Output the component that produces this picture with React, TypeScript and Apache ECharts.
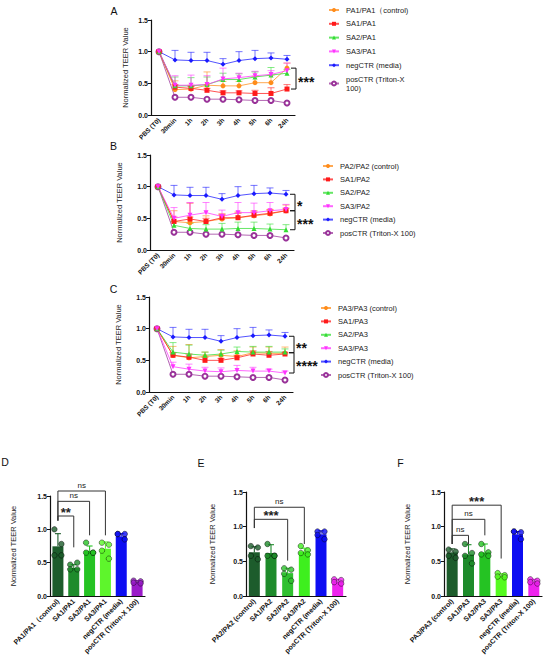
import React, { useEffect, useRef } from 'react';
import * as echarts from 'echarts';

const FONT = '"Liberation Sans", Arial, Helvetica, sans-serif';

const timePoints = ['PBS (T0)', '30min', '1h', '2h', '3h', '4h', '5h', '6h', '24h'];

// shared controls (line panels)
const negMean = [1.0, 0.87, 0.86, 0.86, 0.8, 0.86, 0.89, 0.9, 0.88];
const negSd = [0, 0.15, 0.13, 0.13, 0.09, 0.14, 0.13, 0.08, 0.06];
const posMean = [1.0, 0.28, 0.28, 0.25, 0.25, 0.24, 0.23, 0.23, 0.19];
const posSd = [0, 0.01, 0.01, 0.01, 0.01, 0.01, 0.01, 0.01, 0.01];

// Panel A
const namesA = ['PA1/PA1（control)', 'SA1/PA1', 'SA2/PA1', 'SA3/PA1', 'negCTR (media)', 'posCTR (Triton-X 100)'];
const pa1Mean = [1.0, 0.4, 0.41, 0.47, 0.46, 0.46, 0.51, 0.51, 0.74];
const pa1Sd = [0, 0.14, 0.06, 0.21, 0.07, 0.07, 0.1, 0.12, 0.08];
const sa1pa1Mean = [1.0, 0.44, 0.42, 0.39, 0.35, 0.35, 0.34, 0.34, 0.41];
const sa1pa1Sd = [0, 0.04, 0.03, 0.03, 0.03, 0.03, 0.05, 0.09, 0.07];
const sa2pa1Mean = [1.0, 0.46, 0.46, 0.48, 0.56, 0.56, 0.6, 0.63, 0.66];
const sa2pa1Sd = [0, 0.14, 0.13, 0.12, 0.1, 0.09, 0.08, 0.12, 0.06];
const sa3pa1Mean = [1.0, 0.47, 0.47, 0.48, 0.57, 0.59, 0.62, 0.64, 0.7];
const sa3pa1Sd = [0, 0.15, 0.16, 0.14, 0.17, 0.07, 0.07, 0.06, 0.12];
const sigA: [number, number][] = [[0.74, 0.41]];
const sigALabels = ['***'];

// Panel B
const namesB = ['PA2/PA2 (control)', 'SA1/PA2', 'SA2/PA2', 'SA3/PA2', 'negCTR (media)', 'posCTR (Triton-X 100)'];
const pa2Mean = [1.0, 0.45, 0.43, 0.45, 0.49, 0.51, 0.54, 0.57, 0.62];
const pa2Sd = [0, 0.17, 0.09, 0.09, 0.07, 0.09, 0.08, 0.07, 0.09];
const sa1pa2Mean = [1.0, 0.45, 0.49, 0.45, 0.51, 0.51, 0.55, 0.58, 0.62];
const sa1pa2Sd = [0, 0.07, 0.25, 0.05, 0.06, 0.07, 0.05, 0.05, 0.04];
const sa2pa2Mean = [1.0, 0.39, 0.34, 0.33, 0.33, 0.34, 0.34, 0.33, 0.32];
const sa2pa2Sd = [0, 0.06, 0.08, 0.07, 0.09, 0.1, 0.1, 0.08, 0.08];
const sa3pa2Mean = [1.0, 0.5, 0.55, 0.59, 0.53, 0.59, 0.59, 0.62, 0.64];
const sa3pa2Sd = [0, 0.17, 0.2, 0.16, 0.1, 0.16, 0.15, 0.13, 0.08];
const sigB: [number, number][] = [[0.88, 0.62], [0.62, 0.32]];
const sigBLabels = ['*', '***'];

// Panel C
const namesC = ['PA3/PA3 (control)', 'SA1/PA3', 'SA2/PA3', 'SA3/PA3', 'negCTR (media)', 'posCTR (Triton-X 100)'];
const pa3Mean = [1.0, 0.58, 0.54, 0.56, 0.58, 0.56, 0.62, 0.61, 0.61];
const pa3Sd = [0, 0.14, 0.21, 0.07, 0.09, 0.09, 0.09, 0.1, 0.1];
const sa1pa3Mean = [1.0, 0.58, 0.55, 0.5, 0.5, 0.54, 0.6, 0.58, 0.6];
const sa1pa3Sd = [0, 0.04, 0.05, 0.05, 0.03, 0.04, 0.05, 0.06, 0.02];
const sa2pa3Mean = [1.0, 0.63, 0.6, 0.58, 0.6, 0.64, 0.63, 0.63, 0.63];
const sa2pa3Sd = [0, 0.15, 0.14, 0.05, 0.06, 0.07, 0.09, 0.09, 0.05];
const sa3pa3Mean = [1.0, 0.4, 0.36, 0.33, 0.32, 0.34, 0.33, 0.33, 0.3];
const sa3pa3Sd = [0, 0.07, 0.08, 0.06, 0.06, 0.08, 0.06, 0.03, 0.03];
const sigC: [number, number][] = [[0.88, 0.62], [0.62, 0.3]];
const sigCLabels = ['**', '****'];

// Panel D
const labelsD = ['PA1/PA1（control)', 'SA1/PA1', 'SA2/PA1', 'SA3/PA1', 'negCTR (media)', 'posCTR (Triton-X 100)'];
const barsD = [0.745, 0.42, 0.68, 0.71, 0.895, 0.21];
const sdD = [0.19, 0.05, 0.07, 0.1, 0.04, 0.02];
const dotsD = [[1.0, 0.78, 0.61, 0.61], [0.47, 0.5, 0.4, 0.4], [0.8, 0.65, 0.65, 0.65], [0.8, 0.77, 0.68, 0.56], [0.93, 0.93, 0.93, 0.85], [0.23, 0.22, 0.2, 0.19]];
const sigD: [number, number, number, number, number][] = [[0, 1, 1.2, 1.13, 0.73], [0, 2, 1.42, 1.13, 0.91], [0, 3, 1.575, 1.13, 0.91]];
const sigDLabels = ['**', 'ns', 'ns'];

// Panel E
const labelsE = ['PA2/PA2 (control)', 'SA1/PA2', 'SA2/PA2', 'SA3/PA2', 'negCTR (media)', 'posCTR (Triton-X 100)'];
const barsE = [0.63, 0.62, 0.33, 0.64, 0.89, 0.21];
const sdE = [0.08, 0.12, 0.07, 0.05, 0.05, 0.03];
const dotsE = [[0.72, 0.7, 0.58, 0.53], [0.75, 0.58, 0.58, 0.58], [0.4, 0.38, 0.32, 0.22], [0.72, 0.66, 0.62, 0.6], [0.93, 0.93, 0.88, 0.82], [0.24, 0.23, 0.2, 0.18]];
const sigE: [number, number, number, number, number][] = [[0, 2, 1.106, 0.98, 0.51], [0, 3, 1.28, 0.98, 0.75]];
const sigELabels = ['***', 'ns'];

// Panel F
const labelsF = ['PA3/PA3 (control)', 'SA1/PA3', 'SA2/PA3', 'SA3/PA3', 'negCTR (media)', 'posCTR (Triton-X 100)'];
const barsF = [0.63, 0.6, 0.63, 0.29, 0.89, 0.21];
const sdF = [0.05, 0.14, 0.12, 0.03, 0.04, 0.03];
const dotsF = [[0.67, 0.64, 0.58, 0.55], [0.75, 0.62, 0.58, 0.47], [0.75, 0.63, 0.6, 0.58], [0.33, 0.3, 0.28, 0.27], [0.93, 0.92, 0.93, 0.82], [0.24, 0.22, 0.2, 0.18]];
const sigF: [number, number, number, number, number][] = [[0, 1, 0.875, 0.75, 0.75], [0, 2, 1.106, 0.75, 0.875], [0, 3, 1.31, 0.75, 0.54]];
const sigFLabels = ['ns', 'ns', '***'];

// styles
const lineStyles = [
  { color: '#ff8c1a', symbol: 'circle', size: 5, rotate: 0 },
  { color: '#ff1a1a', symbol: 'rect', size: 5, rotate: 0 },
  { color: '#33dd33', symbol: 'triangle', size: 5, rotate: 0 },
  { color: '#ff33ff', symbol: 'triangle', size: 5, rotate: 180 },
  { color: '#1a1aff', symbol: 'diamond', size: 5, rotate: 0 },
  { color: '#993399', symbol: 'emptyCircle', size: 5, rotate: 0 },
];
const colorsD = ['#1d5c2c', '#1e8b2b', '#25c323', '#5ef52c', '#0d0df2', '#9a1bc9'];
const colorsE = ['#1d5c2c', '#1e8b2b', '#2fc02f', '#3eef1e', '#0d0df2', '#ee22ee'];
const colorsF = ['#1d5c2c', '#1e8b2b', '#25c323', '#55fb1f', '#0d0df2', '#ee22ee'];
const dotJitter = [-3.5, 3.5, -3.5, 3.5];

const lineGrids = [
  { left: 151, top: 20, width: 144, height: 95 },
  { left: 150, top: 155, width: 144, height: 95 },
  { left: 149, top: 297, width: 144, height: 95 },
];
const barGrids = [
  { left: 50, top: 496, width: 95, height: 100 },
  { left: 246, top: 492, width: 100, height: 104 },
  { left: 444, top: 492, width: 98, height: 104 },
];
const lineNameGaps = [22, 27, 27];
const barNameGaps = [33, 30, 33];

function yAxisCfg(gi: number, nameGap: number) {
  return {
    type: 'value', gridIndex: gi, min: 0, max: 1.5, interval: 0.5,
    name: 'Normalized TEER Value', nameLocation: 'middle', nameGap,
    nameTextStyle: { fontSize: 7.5, color: '#222', fontFamily: FONT },
    axisLine: { show: true, lineStyle: { color: '#111', width: 1.2 } },
    axisTick: { show: true, length: 3, lineStyle: { color: '#111', width: 1 } },
    splitLine: { show: false },
    axisLabel: { formatter: (v: number) => v.toFixed(1), fontSize: 7, fontWeight: 'bold', color: '#111', margin: 3, fontFamily: FONT },
  };
}

function xAxisCfg(gi: number, data: string[], fontSize: number) {
  return {
    type: 'category', gridIndex: gi, data, boundaryGap: true,
    axisLine: { lineStyle: { color: '#111', width: 1.2 } },
    axisTick: { alignWithLabel: true, length: 3, lineStyle: { color: '#111', width: 1 } },
    axisLabel: { rotate: 45, interval: 0, fontSize, fontWeight: 'bold', color: '#111', margin: 4, fontFamily: FONT },
  };
}

function linePanelSeries(gi: number, names: string[], means: number[][], sds: number[][], sig: [number, number][], sigLabels: string[]) {
  const out: any[] = [];
  const order = [5, 4, 0, 1, 2, 3];
  order.forEach((k) => {
    const st = lineStyles[k];
    const mean = means[k];
    const sd = sds[k];
    out.push({
      type: 'custom', xAxisIndex: gi, yAxisIndex: gi, z: 1, silent: true,
      data: mean.map((m, j) => [j, m, m + sd[j]]).filter((d) => d[2] - d[1] > 0.015),
      encode: { x: 0, y: [1, 2] },
      renderItem: (params: any, api: any) => {
        const x = api.value(0);
        const lo = api.coord([x, api.value(1)]);
        const hi = api.coord([x, api.value(2)]);
        const s = { stroke: st.color, lineWidth: 1, opacity: 0.6 };
        return {
          type: 'group', children: [
            { type: 'line', shape: { x1: lo[0], y1: lo[1], x2: hi[0], y2: hi[1] }, style: s },
            { type: 'line', shape: { x1: hi[0] - 3.5, y1: hi[1], x2: hi[0] + 3.5, y2: hi[1] }, style: s },
          ],
        };
      },
    });
    out.push({
      type: 'line', name: names[k], xAxisIndex: gi, yAxisIndex: gi, z: 2,
      data: mean, symbol: st.symbol, symbolSize: st.size, symbolRotate: st.rotate,
      itemStyle: { color: st.color, borderWidth: k === 5 ? 1.2 : 0 },
      lineStyle: { color: st.color, width: 1, opacity: 0.75 },
    });
  });
  out.push({
    type: 'custom', xAxisIndex: gi, yAxisIndex: gi, z: 3, silent: true, clip: false,
    data: sig.map((s) => [timePoints.length - 1, s[0], s[1]]),
    encode: { x: 0, y: [1, 2] },
    renderItem: (params: any, api: any) => {
      const top = api.coord([api.value(0), api.value(1)]);
      const bot = api.coord([api.value(0), api.value(2)]);
      const xs = top[0] + 4;
      const xb = top[0] + 9;
      return {
        type: 'group', children: [
          { type: 'polyline', shape: { points: [[xs, top[1]], [xb, top[1]], [xb, bot[1]], [xs, bot[1]]] }, style: { stroke: '#111', fill: null, lineWidth: 1 } },
          { type: 'text', style: { text: sigLabels[params.dataIndex], x: xb + 2, y: (top[1] + bot[1]) / 2 + 3.5, align: 'left', verticalAlign: 'middle', fontSize: 14, fontWeight: 'bold', fill: '#111', fontFamily: FONT } },
        ],
      };
    },
  });
  return out;
}

function barPanelSeries(gi: number, bars: number[], sd: number[], dots: number[][], colors: string[], sig: [number, number, number, number, number][], sigLabels: string[]) {
  const out: any[] = [];
  out.push({
    type: 'bar', name: 'bars' + gi, xAxisIndex: gi, yAxisIndex: gi, barWidth: 11, z: 1,
    data: bars.map((v, i) => ({ value: v, itemStyle: { color: colors[i] } })),
  });
  out.push({
    type: 'custom', xAxisIndex: gi, yAxisIndex: gi, z: 2, silent: true,
    data: bars.map((v, i) => [i, v, v + sd[i]]),
    encode: { x: 0, y: [1, 2] },
    renderItem: (params: any, api: any) => {
      const x = api.value(0);
      const lo = api.coord([x, api.value(1)]);
      const hi = api.coord([x, api.value(2)]);
      const s = { stroke: colors[params.dataIndex], lineWidth: 1.1 };
      return {
        type: 'group', children: [
          { type: 'line', shape: { x1: lo[0], y1: lo[1], x2: hi[0], y2: hi[1] }, style: s },
          { type: 'line', shape: { x1: hi[0] - 3, y1: hi[1], x2: hi[0] + 3, y2: hi[1] }, style: s },
        ],
      };
    },
  });
  const dotData: any[] = [];
  dots.forEach((arr, i) => {
    arr.forEach((v, k) => {
      dotData.push({ value: [i, v], symbolOffset: [dotJitter[k], 0], itemStyle: { color: colors[i] } });
    });
  });
  out.push({
    type: 'scatter', name: 'dots' + gi, xAxisIndex: gi, yAxisIndex: gi, z: 3, symbolSize: 5.5,
    itemStyle: { borderColor: 'rgba(0,0,0,0.6)', borderWidth: 0.9 },
    data: dotData,
  });
  out.push({
    type: 'custom', xAxisIndex: gi, yAxisIndex: gi, z: 4, silent: true, clip: false,
    data: sig.map((s) => [s[0], s[1], s[2], s[3], s[4]]),
    encode: { x: [0, 1], y: [2, 3, 4] },
    renderItem: (params: any, api: any) => {
      const a = api.value(0);
      const b = api.value(1);
      const h = api.value(2);
      const pL = api.coord([a, api.value(3)]);
      const pLT = api.coord([a, h]);
      const pRT = api.coord([b, h]);
      const pR = api.coord([b, api.value(4)]);
      const lbl = sigLabels[params.dataIndex];
      const isStar = lbl.indexOf('*') >= 0;
      return {
        type: 'group', children: [
          { type: 'polyline', shape: { points: [pL, pLT, pRT, pR] }, style: { stroke: '#333', fill: null, lineWidth: 1 } },
          { type: 'text', style: { text: lbl, x: (pLT[0] + pRT[0]) / 2, y: isStar ? pLT[1] + 3 : pLT[1] - 1.5, align: 'center', verticalAlign: 'bottom', fontSize: isStar ? 13 : 8, fontWeight: isStar ? 'bold' : 'normal', fill: '#222', fontFamily: FONT } },
        ],
      };
    },
  });
  return out;
}

function legendCfg(names: string[], left: number, top: number, itemGap: number, wrap: boolean) {
  return {
    data: names, orient: 'vertical', left, top, itemWidth: 10, itemHeight: 5, itemGap,
    selectedMode: false,
    textStyle: { fontSize: 7.5, lineHeight: 9, color: '#222', fontFamily: FONT, padding: [0, 0, 0, 2] },
    formatter: wrap ? (n: string) => (n === 'posCTR (Triton-X 100)' ? 'posCTR (Triton-X\n100)' : n) : undefined,
  };
}

function letter(text: string, x: number, y: number) {
  return { type: 'text', x, y, style: { text, fontSize: 10.5, fill: '#111', align: 'center', verticalAlign: 'middle', fontFamily: FONT } };
}

export default function App() {
  const ref = useRef<HTMLDivElement>(null);
  useEffect(() => {
    if (!ref.current) return;
    const chart = echarts.init(ref.current, undefined, { renderer: 'svg' });
    const series = [
      ...linePanelSeries(0, namesA, [pa1Mean, sa1pa1Mean, sa2pa1Mean, sa3pa1Mean, negMean, posMean], [pa1Sd, sa1pa1Sd, sa2pa1Sd, sa3pa1Sd, negSd, posSd], sigA, sigALabels),
      ...linePanelSeries(1, namesB, [pa2Mean, sa1pa2Mean, sa2pa2Mean, sa3pa2Mean, negMean, posMean], [pa2Sd, sa1pa2Sd, sa2pa2Sd, sa3pa2Sd, negSd, posSd], sigB, sigBLabels),
      ...linePanelSeries(2, namesC, [pa3Mean, sa1pa3Mean, sa2pa3Mean, sa3pa3Mean, negMean, posMean], [pa3Sd, sa1pa3Sd, sa2pa3Sd, sa3pa3Sd, negSd, posSd], sigC, sigCLabels),
      ...barPanelSeries(3, barsD, sdD, dotsD, colorsD, sigD, sigDLabels),
      ...barPanelSeries(4, barsE, sdE, dotsE, colorsE, sigE, sigELabels),
      ...barPanelSeries(5, barsF, sdF, dotsF, colorsF, sigF, sigFLabels),
    ];
    const option: any = {
      animation: false,
      backgroundColor: '#ffffff',
      textStyle: { fontFamily: FONT },
      grid: [...lineGrids, ...barGrids],
      xAxis: [
        xAxisCfg(0, timePoints, 6.5),
        xAxisCfg(1, timePoints, 6.5),
        xAxisCfg(2, timePoints, 6.5),
        xAxisCfg(3, labelsD, 7),
        xAxisCfg(4, labelsE, 7),
        xAxisCfg(5, labelsF, 7),
      ],
      yAxis: [
        yAxisCfg(0, lineNameGaps[0]),
        yAxisCfg(1, lineNameGaps[1]),
        yAxisCfg(2, lineNameGaps[2]),
        yAxisCfg(3, barNameGaps[0]),
        yAxisCfg(4, barNameGaps[1]),
        yAxisCfg(5, barNameGaps[2]),
      ],
      legend: [
        legendCfg(namesA, 323, 0.5, 4.8, true),
        legendCfg(namesB, 317, 156.5, 4.4, false),
        legendCfg(namesC, 315, 298.5, 4.4, false),
      ],
      graphic: [
        letter('A', 114, 10.5),
        letter('B', 113.5, 145.5),
        letter('C', 113.5, 288.5),
        letter('D', 5, 462),
        letter('E', 201, 463),
        letter('F', 400.5, 463),
      ],
      series,
    };
    chart.setOption(option);
    return () => chart.dispose();
  }, []);
  return <div ref={ref} style={{ position: 'absolute', left: 0, top: 0, width: 545, height: 667, background: '#fff' }} />;
}
